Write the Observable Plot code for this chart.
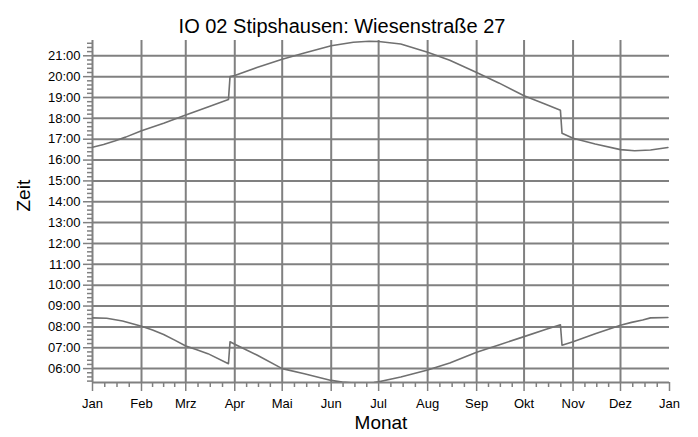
<!DOCTYPE html>
<html><head><meta charset="utf-8">
<script src="https://cdn.jsdelivr.net/npm/d3@7"></script>
<script src="https://cdn.jsdelivr.net/npm/@observablehq/plot@0.6"></script>
<style>html,body{margin:0;padding:0;background:#fff;}</style>
</head><body><div id="chart"></div>
<script>
const title = "IO 02 Stipshausen: Wiesenstraße 27";
const xLabel = "Monat";
const yLabel = "Zeit";
const year = 2015;
const monthLabels = ["Jan","Feb","Mrz","Apr","Mai","Jun","Jul","Aug","Sep","Okt","Nov","Dez","Jan"];
const hourTicks = [6,7,8,9,10,11,12,13,14,15,16,17,18,19,20,21];

const sunsetDates = ["01-01","01-08","01-15","01-22","02-01","02-15","03-01","03-15","03-28","03-29","04-01","04-15","05-01","05-15","06-01","06-15","06-25","07-01","07-15","08-01","08-15","09-01","09-15","10-01","10-15","10-24","10-25","11-01","11-15","12-01","12-10","12-20","12-31"];
const sunsetTimes = ["16:37","16:45","16:55","17:06","17:24","17:46","18:10","18:33","18:54","20:00","20:03","20:26","20:50","21:08","21:29","21:39","21:42","21:41","21:34","21:10","20:47","20:12","19:42","19:05","18:40","18:23","17:17","17:03","16:46","16:30","16:27","16:29","16:36"];

const sunriseDates = ["01-01","01-10","01-20","02-01","02-08","02-15","02-22","03-01","03-08","03-15","03-28","03-29","04-01","04-15","05-01","05-15","06-01","06-08","06-17","06-28","07-01","07-15","08-01","08-15","09-01","09-15","10-01","10-15","10-24","10-25","11-01","11-15","12-01","12-08","12-15","12-20","12-31"];
const sunriseTimes = ["08:26","08:25","08:17","08:02","07:51","07:38","07:22","07:05","06:54","06:43","06:14","07:17","07:10","06:39","06:00","05:45","05:26","05:21","05:18","05:20","05:22","05:36","05:56","06:16","06:47","07:08","07:32","07:53","08:06","07:07","07:17","07:40","08:05","08:13","08:20","08:26","08:27"];

const parseDate = d3.utcParse("%Y-%m-%d");
const toHours = s => { const [h, m] = s.split(":").map(Number); return h + m / 60; };
const build = (dates, times) => dates.map((d, i) => ({date: parseDate(year + "-" + d), t: toHours(times[i])}));
const sunset = build(sunsetDates, sunsetTimes);
const sunrise = build(sunriseDates, sunriseTimes);

const X0 = new Date(Date.UTC(year, 0, 1)), X1 = new Date(Date.UTC(year + 1, 0, 1));
const monthTicks = d3.utcMonth.range(X0, d3.utcDay.offset(X1, 1));
const minorX = monthTicks.slice(0, -1).flatMap((m, i) => {
  const n = monthTicks[i + 1];
  return [1, 2, 3].map(k => new Date(+m + (n - m) * k / 4));
});
const yMin = 5 + 20 / 60, yMax = 21 + 44 / 60;
const minorY = d3.range(Math.ceil(yMin * 5), Math.floor(yMax * 5) + 1).map(v => v / 5)
  .filter(v => Math.abs(v - Math.round(v)) > 1e-6);
const monthFmt = d => d.getUTCFullYear() > year ? monthLabels[12] : monthLabels[d.getUTCMonth()];
const hourFmt = h => String(h).padStart(2, "0") + ":00";

const gridColor = "#808080";
const lineColor = "#707070";

const chart = Plot.plot({
  width: 698, height: 437,
  marginLeft: 92, marginRight: 29, marginTop: 40, marginBottom: 55,
  style: {fontFamily: "'Liberation Sans', Arial, sans-serif", background: "#fff", color: "#000"},
  x: {type: "utc", domain: [X0, X1]},
  y: {domain: [yMin, yMax]},
  marks: [
    Plot.gridY(hourTicks, {stroke: gridColor, strokeOpacity: 1, strokeWidth: 2}),
    Plot.gridX(monthTicks.slice(1, -1), {stroke: gridColor, strokeOpacity: 1, strokeWidth: 2}),
    Plot.ruleX([X0], {stroke: gridColor, strokeWidth: 2}),
    Plot.ruleY([yMin], {stroke: gridColor, strokeWidth: 2}),
    Plot.axisX(minorX, {tickSize: 5, tickFormat: () => "", stroke: gridColor, strokeWidth: 1.5, label: null}),
    Plot.axisX(monthTicks, {tickSize: 9, tickPadding: 7, tickFormat: monthFmt, stroke: gridColor, strokeWidth: 1.5, fill: "#000", fontSize: 13, label: null}),
    Plot.axisY(minorY, {tickSize: 5, tickFormat: () => "", stroke: gridColor, strokeWidth: 1.5, label: null}),
    Plot.axisY(hourTicks, {tickSize: 9, tickPadding: 3, tickFormat: hourFmt, stroke: gridColor, strokeWidth: 1.5, fill: "#000", fontSize: 13, label: null}),
    Plot.line(sunset, {x: "date", y: "t", stroke: lineColor, strokeWidth: 1.6, clip: true}),
    Plot.line(sunrise, {x: "date", y: "t", stroke: lineColor, strokeWidth: 1.6, clip: true}),
    Plot.text([title], {frameAnchor: "top", dx: -39, dy: -22, fontSize: 20, fill: "#000"}),
    Plot.text([xLabel], {frameAnchor: "bottom", dy: 46, fontSize: 19, fill: "#000"}),
    Plot.text([yLabel], {frameAnchor: "left", dx: -69, rotate: -90, fontSize: 19, fill: "#000"})
  ]
});
document.getElementById("chart").appendChild(chart);
</script>
</body></html>
